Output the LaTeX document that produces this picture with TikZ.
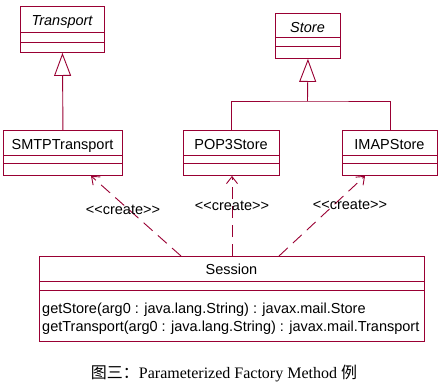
\documentclass[tikz,border=0pt]{standalone}
\usepackage{fontspec}
\usetikzlibrary{arrows.meta}
\newfontfamily\umlfont{Liberation Sans}
\newfontfamily\capfont{Liberation Serif}
\newfontfamily\cjkfont{Noto Sans CJK SC}
\definecolor{umlred}{RGB}{153,0,51}
\begin{document}
\begin{tikzpicture}[x=1pt,y=-1pt,
  box/.style={draw=umlred, line width=0.9pt, rectangle, inner sep=0pt, anchor=north west},
  txt/.style={font=\umlfont\fontsize{14.5}{17}\selectfont, inner sep=0pt, anchor=base, text=black},
  sep/.style={draw=umlred, line width=0.9pt},
  gen/.style={draw=umlred, line width=0.9pt, -{Triangle[open, length=23pt, width=17pt, line width=0.9pt]}},
  dep/.style={draw=umlred, line width=0.9pt, dash pattern=on 12pt off 7pt, -{Straight Barb[length=7pt, width=11pt, line width=0.9pt]}},
  lnk/.style={draw=umlred, line width=0.9pt}]
\useasboundingbox (0,0) rectangle (441,389);
% classes
\node[box, minimum width=84pt, minimum height=46pt] (transport) at (20,6) {};
\node[box, minimum width=65pt, minimum height=45pt] (store) at (275,13) {};
\node[box, minimum width=119pt, minimum height=45pt] (smtp) at (3,130) {};
\node[box, minimum width=96pt, minimum height=45pt] (pop3) at (183,130) {};
\node[box, minimum width=95pt, minimum height=45pt] (imap) at (342,130) {};
\node[box, minimum width=385pt, minimum height=85pt] (session) at (39,256) {};
% compartments
\draw[sep] ([yshift=-26pt]transport.north west) -- ([yshift=-26pt]transport.north east);
\draw[sep] ([yshift=-36pt]transport.north west) -- ([yshift=-36pt]transport.north east);
\draw[sep] ([yshift=-24pt]store.north west) -- ([yshift=-24pt]store.north east);
\draw[sep] ([yshift=-33pt]store.north west) -- ([yshift=-33pt]store.north east);
\foreach \c in {smtp,pop3,imap}{
  \draw[sep] ([yshift=-25pt]\c.north west) -- ([yshift=-25pt]\c.north east);
  \draw[sep] ([yshift=-33pt]\c.north west) -- ([yshift=-33pt]\c.north east);
}
\draw[sep] ([yshift=-25pt]session.north west) -- ([yshift=-25pt]session.north east);
\draw[sep] ([yshift=-34pt]session.north west) -- ([yshift=-34pt]session.north east);
% titles
\node[txt] (tTransport) at (62,25) {\itshape Transport};
\node[txt] (tStore) at (307.5,32) {\itshape Store};
\node[txt] (tSmtp) at (62.5,149) {SMTPTransport};
\node[txt] (tPop3) at (231,149) {POP3Store};
\node[txt] (tImap) at (389.5,149) {IMAPStore};
\node[txt] (tSession) at (231.5,274) {Session};
\node[txt, anchor=base west] (m1) at (42,313) {getStore(arg0 : java.lang.String) : javax.mail.Store};
\node[txt, anchor=base west] (m2) at (42,331) {getTransport(arg0 : java.lang.String) : javax.mail.Transport};
% generalizations
\draw[gen] (smtp.north) -- (transport.south);
\coordinate (join) at (307.5,101);
\draw[gen] (join) -- (store.south);
\draw[lnk] (pop3.north) |- (join) -| (imap.north);
% dependencies
\draw[dep] ([xshift=142pt]session.north west) -- ([xshift=88pt]smtp.south west);
\draw[dep] ([xshift=193pt]session.north west) -- ([xshift=49pt]pop3.south west);
\draw[dep] ([xshift=240pt]session.north west) -- ([xshift=23pt]imap.south west);
\node[txt] (l1) at (123,214) {<<create>>};
\node[txt] (l2) at (232,210) {<<create>>};
\node[txt] (l3) at (350,209) {<<create>>};
% caption
\node[inner sep=0pt, anchor=base] (caption) at (224,378)
  {\fontsize{16}{19}\selectfont\cjkfont 图三：\capfont Parameterized Factory Method \cjkfont 例};
\end{tikzpicture}
\end{document}
